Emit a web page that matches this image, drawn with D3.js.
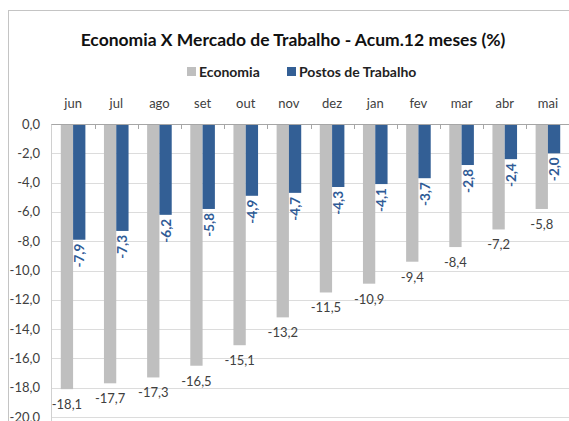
<!DOCTYPE html>
<html>
<head>
<meta charset="utf-8">
<script src="https://cdn.jsdelivr.net/npm/d3@7"></script>
<style>
  body { margin: 0; background: #fff; }
  svg { display: block; font-family: Lato, "Open Sans", sans-serif; }
</style>
</head>
<body>
<div id="chart"></div>
<script>
const months = ["jun", "jul", "ago", "set", "out", "nov", "dez", "jan", "fev", "mar", "abr", "mai"];
const seriesNames = ["Economia", "Postos de Trabalho"];
const economia = [-18.1, -17.7, -17.3, -16.5, -15.1, -13.2, -11.5, -10.9, -9.4, -8.4, -7.2, -5.8];
const postos = [-7.9, -7.3, -6.2, -5.8, -4.9, -4.7, -4.3, -4.1, -3.7, -2.8, -2.4, -2.0];
const yTicks = [0, -2, -4, -6, -8, -10, -12, -14, -16, -18, -20];

const width = 569;
const height = 421;
const colors = { "Economia": "#bfbfbf", "Postos de Trabalho": "#335f95" };

const svg = d3.select("#chart")
  .append("svg")
  .attr("width", width)
  .attr("height", height);

// outer frame
svg.append("rect")
  .attr("x", 8.5)
  .attr("y", 10.5)
  .attr("width", 600)
  .attr("height", 450)
  .attr("fill", "none")
  .attr("stroke", "#c4c4c4");

const plot = { left: 51.5, right: 569.5, top: 124, bottom: 417 };

const x0 = d3.scaleBand()
  .domain(months)
  .range([plot.left, plot.right])
  .paddingInner(0.43)
  .paddingOuter(0.215);

const x1 = d3.scaleBand()
  .domain(seriesNames)
  .range([0, x0.bandwidth()]);

const y = d3.scaleLinear()
  .domain([-20, 0])
  .range([plot.bottom, plot.top]);

const fmt = (v) => d3.format(".1f")(v).replace(".", ",").replace("\u2212", "-");

// gridlines
svg.append("g")
  .selectAll("line")
  .data(yTicks.filter((t) => t !== 0))
  .enter()
  .append("line")
  .attr("x1", plot.left)
  .attr("x2", plot.right)
  .attr("y1", (d) => Math.round(y(d)) + 0.5)
  .attr("y2", (d) => Math.round(y(d)) + 0.5)
  .attr("stroke", "#dcdcdc");

// value axis line
svg.append("line")
  .attr("x1", plot.left)
  .attr("x2", plot.left)
  .attr("y1", plot.top)
  .attr("y2", plot.bottom + 4)
  .attr("stroke", "#d0d0d0");

// y labels
svg.append("g")
  .selectAll("text")
  .data(yTicks)
  .enter()
  .append("text")
  .attr("x", 40)
  .attr("y", (d) => y(d))
  .attr("dy", "0.35em")
  .attr("text-anchor", "end")
  .attr("font-size", 13)
  .attr("fill", "#404040")
  .text((d) => fmt(d));

// bars
const groups = svg.append("g")
  .selectAll("g")
  .data(months)
  .enter()
  .append("g")
  .attr("transform", (d) => `translate(${x0(d)},0)`);

groups.append("rect")
  .attr("x", x1("Economia"))
  .attr("y", y(0))
  .attr("width", x1.bandwidth())
  .attr("height", (d, i) => y(economia[i]) - y(0))
  .attr("fill", colors["Economia"]);

groups.append("rect")
  .attr("x", x1("Postos de Trabalho"))
  .attr("y", y(0))
  .attr("width", x1.bandwidth())
  .attr("height", (d, i) => y(postos[i]) - y(0))
  .attr("fill", colors["Postos de Trabalho"]);

// economia labels
groups.append("text")
  .attr("x", x1("Economia") + x1.bandwidth() / 2)
  .attr("y", (d, i) => y(economia[i]) + 20)
  .attr("text-anchor", "middle")
  .attr("font-size", 13)
  .attr("fill", "#404040")
  .text((d, i) => fmt(economia[i]));

// postos labels, rotated
groups.append("text")
  .attr("transform", (d, i) =>
    `translate(${x1("Postos de Trabalho") + x1.bandwidth() / 2},${y(postos[i]) + 4}) rotate(-90)`)
  .attr("text-anchor", "end")
  .attr("dominant-baseline", "central")
  .attr("font-size", 13.5)
  .attr("font-weight", "bold")
  .attr("fill", "#2f5b96")
  .text((d, i) => fmt(postos[i]));

// zero line with category ticks
svg.append("line")
  .attr("x1", plot.left)
  .attr("x2", plot.right)
  .attr("y1", plot.top + 0.5)
  .attr("y2", plot.top + 0.5)
  .attr("stroke", "#a6a6a6");

svg.append("g")
  .selectAll("line")
  .data(months.slice(1))
  .enter()
  .append("line")
  .attr("x1", (d) => Math.round(x0(d) - x0.step() * 0.215) + 0.5)
  .attr("x2", (d) => Math.round(x0(d) - x0.step() * 0.215) + 0.5)
  .attr("y1", plot.top)
  .attr("y2", plot.top + 5)
  .attr("stroke", "#a6a6a6");

// month labels
svg.append("g")
  .selectAll("text")
  .data(months)
  .enter()
  .append("text")
  .attr("x", (d) => x0(d) + x0.bandwidth() / 2)
  .attr("y", 108)
  .attr("text-anchor", "middle")
  .attr("font-size", 13)
  .attr("fill", "#404040")
  .text((d) => d);

// title
svg.append("text")
  .attr("x", 293)
  .attr("y", 46)
  .attr("text-anchor", "middle")
  .attr("font-size", 17.5)
  .attr("font-weight", "bold")
  .attr("fill", "#111")
  .text("Economia X Mercado de Trabalho - Acum.12 meses (%)");

// legend
const legend = svg.append("g").attr("id", "legend");
const legendX = [187, 287];
seriesNames.forEach((name, i) => {
  legend.append("rect")
    .attr("x", legendX[i])
    .attr("y", 67)
    .attr("width", 9)
    .attr("height", 9)
    .attr("fill", colors[name]);
  legend.append("text")
    .attr("x", legendX[i] + 12)
    .attr("y", 77)
    .attr("font-size", 14)
    .attr("font-weight", "bold")
    .attr("fill", "#222")
    .text(name);
});
</script>
</body>
</html>
